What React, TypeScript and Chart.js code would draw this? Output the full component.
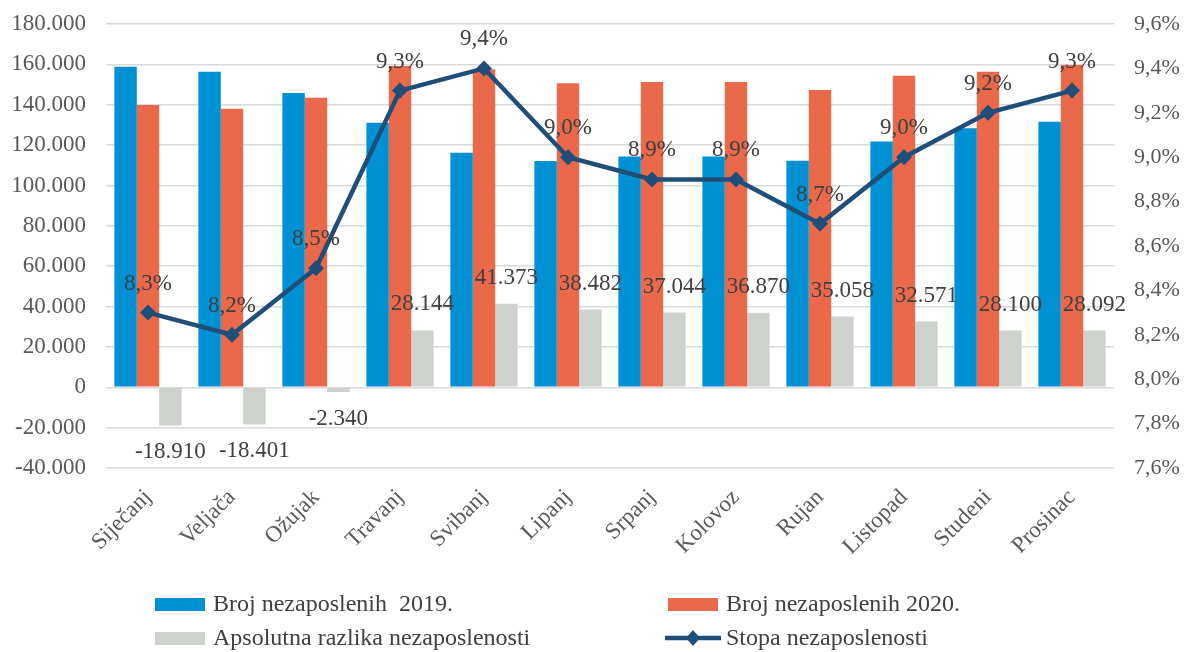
import React, { useEffect, useRef } from "react";
import { Chart, registerables } from "chart.js";

Chart.register(...registerables);

const categories = [
  "Siječanj", "Veljača", "Ožujak", "Travanj", "Svibanj", "Lipanj",
  "Srpanj", "Kolovoz", "Rujan", "Listopad", "Studeni", "Prosinac",
];
const unemployed2019 = [158800, 156400, 145800, 131100, 116200, 112100, 114300, 114400, 112200, 121800, 128300, 131600];
const unemployed2020 = [139900, 138000, 143500, 159200, 157600, 150600, 151300, 151300, 147300, 154400, 156400, 159700];
const absoluteDiff = [-18910, -18401, -2340, 28144, 41373, 38482, 37044, 36870, 35058, 32571, 28100, 28092];
const unemploymentRate = [8.3, 8.2, 8.5, 9.3, 9.4, 9.0, 8.9, 8.9, 8.7, 9.0, 9.2, 9.3];

const seriesNames = [
  "Broj nezaposlenih  2019.",
  "Broj nezaposlenih 2020.",
  "Apsolutna razlika nezaposlenosti",
  "Stopa nezaposlenosti",
];

const BLUE = "#0090d4";
const ORANGE = "#e9694a";
const GREY = "#cdd2cd";
const NAVY = "#1f4e79";
const FONT = '"Liberation Serif", "Times New Roman", serif';

function fmtThousands(v: number): string {
  const s = Math.round(Math.abs(v)).toString();
  const withDots = s.replace(/\B(?=(\d{3})+(?!\d))/g, ".");
  return (v < 0 ? "-" : "") + withDots;
}
function fmtPct(v: number): string {
  return v.toFixed(1).replace(".", ",") + "%";
}

const labelPlugin = {
  id: "dataLabels",
  afterDatasetsDraw(chart: any) {
    const ctx = chart.ctx;
    ctx.save();
    ctx.font = `23px ${FONT}`;
    ctx.fillStyle = "#404040";
    ctx.textAlign = "center";
    ctx.textBaseline = "alphabetic";
    const diffMeta = chart.getDatasetMeta(2);
    diffMeta.data.forEach((bar: any, i: number) => {
      const v = absoluteDiff[i];
      const { x, y } = bar.getProps(["x", "y"], true);
      if (v >= 0) {
        ctx.fillText(fmtThousands(v), x, y - 20);
      } else {
        ctx.fillText(fmtThousands(v), x, y + 33);
      }
    });
    const lineMeta = chart.getDatasetMeta(3);
    lineMeta.data.forEach((pt: any, i: number) => {
      const { x, y } = pt.getProps(["x", "y"], true);
      ctx.fillText(fmtPct(unemploymentRate[i]), x, y - 23);
    });
    ctx.restore();
  },
};

const legendPlugin = {
  id: "customLegend",
  afterDraw(chart: any) {
    const ctx = chart.ctx;
    ctx.save();
    ctx.font = `24px ${FONT}`;
    ctx.textAlign = "left";
    ctx.textBaseline = "middle";
    const items = [
      { x: 155, y: 604, kind: "box", color: BLUE, text: seriesNames[0] },
      { x: 668, y: 604, kind: "box", color: ORANGE, text: seriesNames[1] },
      { x: 155, y: 638, kind: "box", color: GREY, text: seriesNames[2] },
      { x: 668, y: 638, kind: "line", color: NAVY, text: seriesNames[3] },
    ];
    items.forEach((it) => {
      if (it.kind === "box") {
        ctx.fillStyle = it.color;
        ctx.fillRect(it.x, it.y - 6, 50, 13);
      } else {
        ctx.strokeStyle = it.color;
        ctx.lineWidth = 4.5;
        ctx.beginPath();
        ctx.moveTo(it.x - 3, it.y);
        ctx.lineTo(it.x + 53, it.y);
        ctx.stroke();
        ctx.fillStyle = it.color;
        const cx = it.x + 25;
        ctx.beginPath();
        ctx.moveTo(cx, it.y - 8);
        ctx.lineTo(cx + 7, it.y);
        ctx.lineTo(cx, it.y + 8);
        ctx.lineTo(cx - 7, it.y);
        ctx.closePath();
        ctx.fill();
      }
      ctx.fillStyle = "#404040";
      ctx.fillText(it.text, it.x + 58, it.y + 1);
    });
    ctx.restore();
  },
};

export default function App() {
  const canvasRef = useRef<HTMLCanvasElement | null>(null);

  useEffect(() => {
    document.body.style.margin = "0";
    const canvas = canvasRef.current;
    if (!canvas) return;
    const chart = new Chart(canvas, {
      type: "bar",
      data: {
        labels: categories,
        datasets: [
          { type: "bar", label: seriesNames[0], data: unemployed2019, backgroundColor: BLUE, yAxisID: "y", order: 2, categoryPercentage: 0.8, barPercentage: 1.0 },
          { type: "bar", label: seriesNames[1], data: unemployed2020, backgroundColor: ORANGE, yAxisID: "y", order: 2, categoryPercentage: 0.8, barPercentage: 1.0 },
          { type: "bar", label: seriesNames[2], data: absoluteDiff, backgroundColor: GREY, yAxisID: "y", order: 2, categoryPercentage: 0.8, barPercentage: 1.0 },
          {
            type: "line", label: seriesNames[3], data: unemploymentRate, yAxisID: "y1", order: 0,
            borderColor: NAVY, backgroundColor: NAVY, borderWidth: 4.5, tension: 0,
            pointStyle: "rectRot", pointRadius: 8, pointBackgroundColor: NAVY, pointBorderColor: NAVY, pointBorderWidth: 0,
          },
        ] as any,
      },
      options: {
        animation: false,
        responsive: false,
        maintainAspectRatio: false,
        layout: { padding: { top: 24, left: 0, right: 0, bottom: 0 } },
        plugins: { legend: { display: false }, tooltip: { enabled: false } },
        scales: {
          x: {
            grid: { display: false },
            border: { display: false },
            ticks: {
              color: "#595959",
              font: { family: FONT, size: 23 },
              maxRotation: 45,
              minRotation: 45,
              padding: 8,
            },
            afterFit(scale: any) {
              scale.height = 184;
              scale.paddingLeft = 0;
              scale.paddingRight = 0;
              scale.paddingTop = 0;
              scale.paddingBottom = 0;
            },
          },
          y: {
            position: "left",
            min: -40000,
            max: 180000,
            ticks: {
              stepSize: 20000,
              color: "#595959",
              font: { family: FONT, size: 23 },
              padding: 20,
              callback: (v: any) => fmtThousands(Number(v)),
            },
            grid: { color: "#d9d9d9", lineWidth: 1.5, drawTicks: false },
            border: { display: false },
            afterFit(scale: any) {
              scale.width = 106;
              scale.paddingTop = 0;
              scale.paddingBottom = 0;
            },
          },
          y1: {
            position: "right",
            min: 7.6,
            max: 9.6,
            ticks: {
              stepSize: 0.2,
              color: "#595959",
              font: { family: FONT, size: 22 },
              padding: 20,
              callback: (v: any) => fmtPct(Number(v)),
            },
            grid: { display: false, drawTicks: false },
            border: { display: false },
            afterFit(scale: any) {
              scale.width = 70;
              scale.paddingTop = 0;
              scale.paddingBottom = 0;
            },
          },
        },
      } as any,
      plugins: [labelPlugin, legendPlugin],
    });
    return () => chart.destroy();
  }, []);

  return (
    <div style={{ width: 1184, height: 652, position: "relative", background: "#fff" }}>
      <canvas ref={canvasRef} width={1184} height={652} style={{ display: "block" }} />
    </div>
  );
}
